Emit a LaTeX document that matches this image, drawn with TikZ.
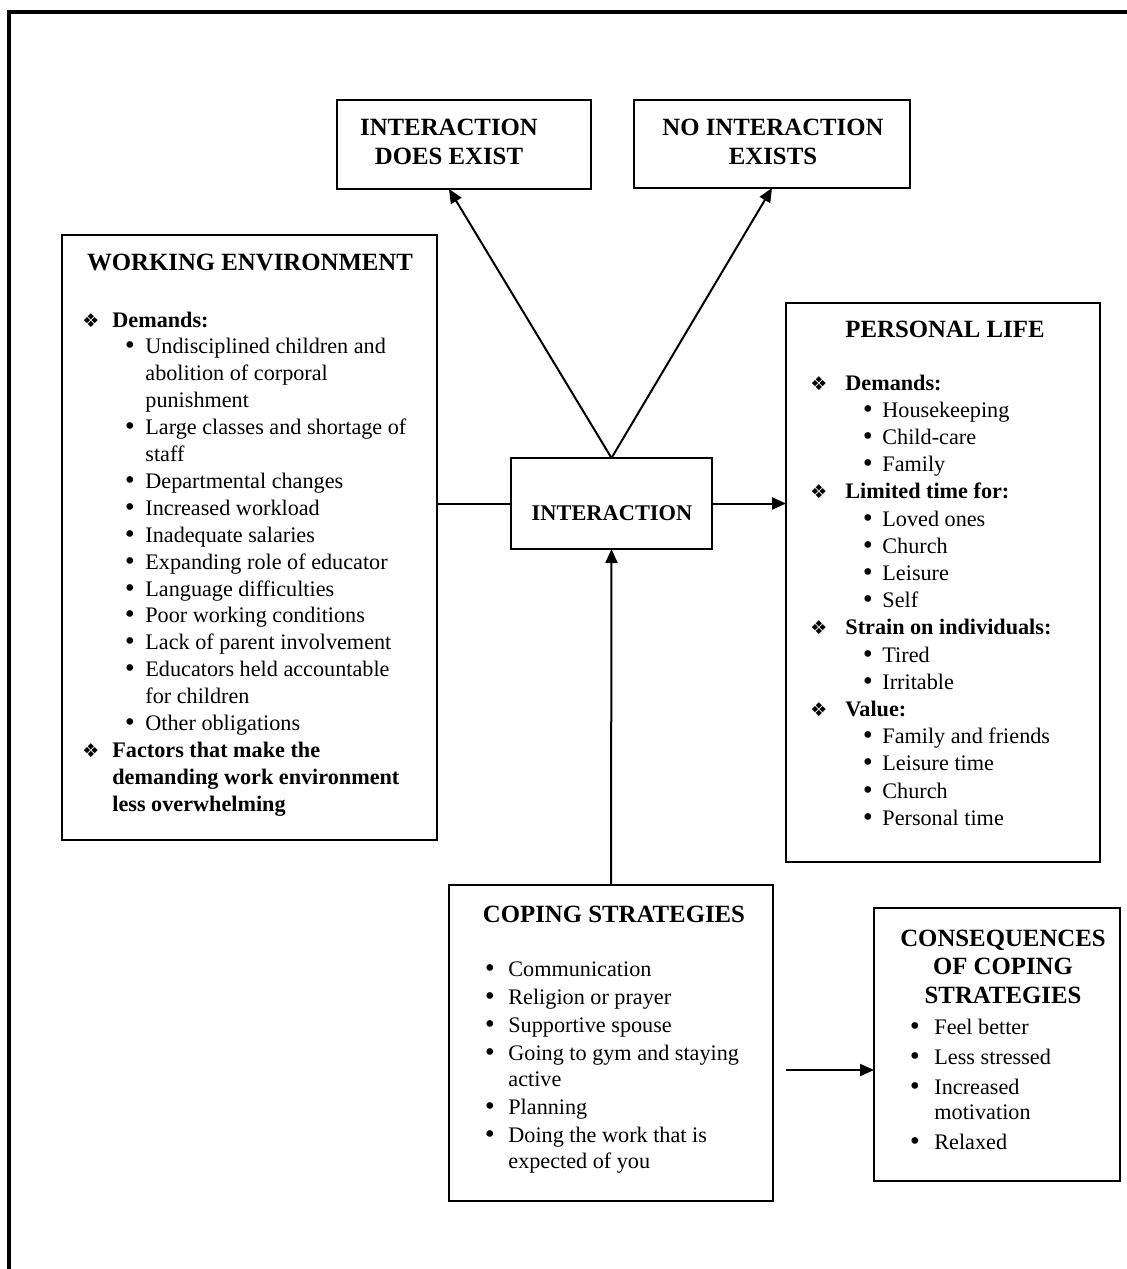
\documentclass[tikz,border=0pt]{standalone}
\usepackage{fontspec}
\setmainfont{Liberation Serif}
\newfontfamily\dejavu{DejaVu Sans}
\usetikzlibrary{arrows.meta,calc}
\newlength\dA \newlength\bI \newlength\bW
\newcommand\Di[1]{\makebox[\dA][l]{\dejavu\fontsize{9.5}{9.5}\selectfont ❖}\textbf{#1}}
\newcommand\Dc[1]{\hspace*{\dA}\textbf{#1}}
\newcommand\Bu[1]{\hspace*{\bI}\makebox[\bW][l]{\hspace*{-0.6pt}{\dejavu\fontsize{11.5}{11.5}\selectfont •}}#1}
\newcommand\Co[1]{\hspace*{\bI}\hspace*{\bW}#1}
\tikzset{
  box/.style={draw, line width=1pt, inner sep=0pt, outer sep=0pt, anchor=north west},
  ttl/.style={inner sep=0pt, anchor=base, font=\bfseries\fontsize{12.4}{14.5}\selectfont},
  body/.style={inner sep=0pt, anchor=base west, font=\fontsize{11.1}{13.45}\selectfont},
  arr/.style={line width=1pt, -{Triangle[length=7pt,width=6pt]}},
  con/.style={line width=1pt},
  frame/.style={line width=2pt}
}
\begin{document}
\begin{tikzpicture}[x=0.5pt,y=-0.5pt]
\useasboundingbox (0,0) rectangle (1127,1269);
\draw[frame] (9,1269) -- (9,11.5) -- (1127,11.5);

% boxes
\node[box, minimum width=127pt, minimum height=44.5pt] (dex) at (337,100) {};
\node[box, minimum width=138pt, minimum height=44pt] (nex) at (634,100) {};
\node[box, minimum width=187.5pt, minimum height=302.5pt] (we) at (62,235) {};
\node[box, minimum width=157pt, minimum height=279.5pt] (pl) at (786,303) {};
\node[box, minimum width=100.5pt, minimum height=45.5pt] (inter) at (511,458) {};
\node[box, minimum width=162pt, minimum height=158pt] (cop) at (449,885) {};
\node[box, minimum width=123pt, minimum height=136.5pt] (cons) at (874,908) {};

% titles
\node[ttl] (dext) at (449,135) {\begin{tabular}[t]{@{}c@{}}INTERACTION\\DOES EXIST\end{tabular}};
\node[ttl] (next) at (773,135) {\begin{tabular}[t]{@{}c@{}}NO INTERACTION\\EXISTS\end{tabular}};
\node[ttl] (wet) at (250,270) {WORKING ENVIRONMENT};
\node[ttl] (plt) at (945,337) {PERSONAL LIFE};
\node[ttl, font=\bfseries\fontsize{11.2}{13}\selectfont] (intert) at (612,520) {INTERACTION};
\node[ttl] (copt) at (614,922) {COPING STRATEGIES};
\node[ttl, font=\bfseries\fontsize{12.4}{14.25}\selectfont] (const) at (1003,946) {\begin{tabular}[t]{@{}c@{}}CONSEQUENCES\\OF COPING\\STRATEGIES\end{tabular}};

% working environment list
\node[body] (wel) at (82,327) {\begin{minipage}[t]{200pt}\fontsize{11.1}{13.45}\selectfont
\setlength\dA{15pt}\setlength\bI{21pt}\setlength\bW{10.5pt}%
\Di{Demands:}\\
\Bu{Undisciplined children and}\\
\Co{abolition of corporal}\\
\Co{punishment}\\
\Bu{Large classes and shortage of}\\
\Co{staff}\\
\Bu{Departmental changes}\\
\Bu{Increased workload}\\
\Bu{Inadequate salaries}\\
\Bu{Expanding role of educator}\\
\Bu{Language difficulties}\\
\Bu{Poor working conditions}\\
\Bu{Lack of parent involvement}\\
\Bu{Educators held accountable}\\
\Co{for children}\\
\Bu{Other obligations}\\
\Di{Factors that make the}\\
\Dc{demanding work environment}\\
\Dc{less overwhelming}
\end{minipage}};

% personal life list
\node[body] (pll) at (810,390) {\begin{minipage}[t]{200pt}\fontsize{11.1}{13.6}\selectfont
\setlength\dA{17.5pt}\setlength\bI{26pt}\setlength\bW{10pt}%
\Di{Demands:}\\
\Bu{Housekeeping}\\
\Bu{Child-care}\\
\Bu{Family}\\
\Di{Limited time for:}\\
\Bu{Loved ones}\\
\Bu{Church}\\
\Bu{Leisure}\\
\Bu{Self}\\
\Di{Strain on individuals:}\\
\Bu{Tired}\\
\Bu{Irritable}\\
\Di{Value:}\\
\Bu{Family and friends}\\
\Bu{Leisure time}\\
\Bu{Church}\\
\Bu{Personal time}
\end{minipage}};

% coping list
\node[body] (copl) at (484,976) {\begin{minipage}[t]{200pt}\fontsize{11.1}{13}\selectfont
\setlength\dA{0pt}\setlength\bI{0pt}\setlength\bW{12pt}%
\Bu{Communication}\\[1pt]
\Bu{Religion or prayer}\\[1pt]
\Bu{Supportive spouse}\\[1pt]
\Bu{Going to gym and staying}\\
\Co{active}\\[1pt]
\Bu{Planning}\\[1pt]
\Bu{Doing the work that is}\\
\Co{expected of you}
\end{minipage}};

% consequences list
\node[body] (consl) at (909,1034) {\begin{minipage}[t]{150pt}\fontsize{11.1}{12.5}\selectfont
\setlength\dA{0pt}\setlength\bI{0pt}\setlength\bW{12.5pt}%
\Bu{Feel better}\\[2.5pt]
\Bu{Less stressed}\\[2.5pt]
\Bu{Increased}\\
\Co{motivation}\\[2.5pt]
\Bu{Relaxed}
\end{minipage}};

% connectors
\draw[arr] (inter.north) -- ([xshift=-7.5pt]dex.south);
\draw[arr] (inter.north) -- (nex.south);
\draw[con] (inter.west) -- (inter.west -| we.east);
\draw[arr] (inter.east) -- (inter.east -| pl.west);
\draw[arr] (cop.north) -- (inter.south);
\coordinate (cstart) at (786,1070);
\draw[arr] (cstart) -- (cstart -| cons.west);
\end{tikzpicture}
\end{document}
